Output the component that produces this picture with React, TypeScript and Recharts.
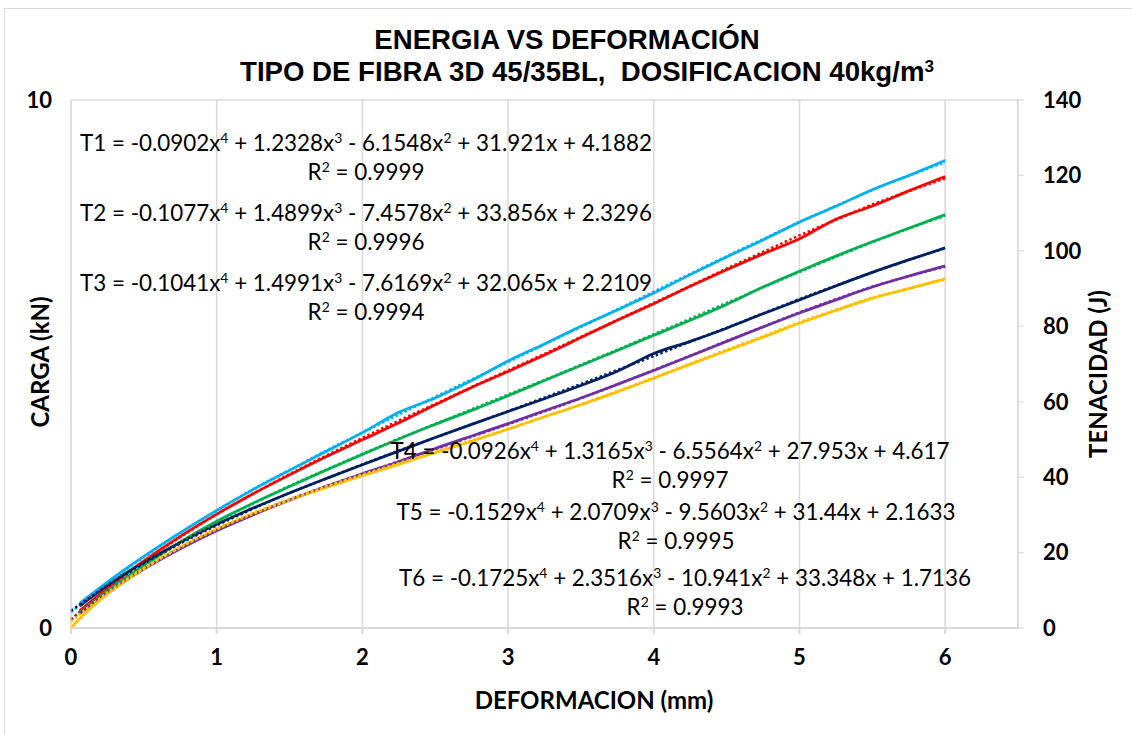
import React from "react";
import { LineChart, Line, XAxis, YAxis, CartesianGrid } from "recharts";

// deformación (mm) de las curvas medidas
const SOLID_X = [0, 0.06, 0.25, 0.5, 0.75, 1, 1.25, 1.5, 1.75, 2, 2.25, 2.5, 2.75, 3, 3.25, 3.5, 3.75, 4, 4.25, 4.5, 4.75, 5, 5.25, 5.5, 5.75, 6];

// tenacidad (J)
const T1_SOLID = [null, 6.6, 12.2, 19.0, 25.3, 31.2, 36.7, 41.8, 46.8, 51.8, 57.2, 61.0, 65.6, 70.8, 75.3, 80.0, 84.3, 88.8, 93.7, 98.4, 102.9, 107.6, 111.8, 116.2, 120.0, 124.0];
const T2_SOLID = [null, 4.6, 10.6, 17.8, 24.3, 30.2, 35.6, 40.6, 45.4, 49.9, 54.4, 59.2, 63.8, 68.0, 72.4, 77.0, 81.6, 86.0, 90.6, 95.0, 99.2, 103.2, 108.4, 111.9, 115.9, 119.7];
const T3_SOLID = [null, 4.2, 9.9, 16.6, 22.8, 28.3, 33.1, 37.5, 41.8, 46.0, 50.1, 54.0, 57.7, 61.6, 65.6, 69.6, 73.6, 77.6, 81.6, 85.8, 90.4, 94.6, 98.6, 102.4, 106.0, 109.6];
const T4_SOLID = [null, 5.8, 11.4, 17.4, 22.7, 27.5, 31.8, 35.8, 39.6, 43.3, 46.9, 50.5, 54.0, 57.4, 60.8, 64.3, 68.1, 72.8, 76.0, 79.5, 83.3, 87.0, 90.7, 94.3, 97.6, 100.8];
const T5_SOLID = [null, 3.9, 9.4, 15.6, 21.0, 25.8, 30.0, 33.9, 37.5, 40.9, 44.1, 47.6, 50.9, 54.2, 57.6, 61.0, 64.6, 68.3, 72.1, 76.0, 79.8, 83.5, 87.0, 90.4, 93.3, 96.0];
const T6_SOLID = [0, 2.5, 9.0, 15.7, 21.4, 26.2, 30.3, 33.9, 37.2, 40.4, 43.4, 46.5, 49.5, 52.7, 56.0, 59.2, 62.6, 66.2, 69.9, 73.5, 77.1, 80.8, 84.2, 87.4, 90.0, 92.6];

// líneas de tendencia polinómicas (punteadas)
const TREND_X = [0, 0.25, 0.5, 0.75, 1, 1.25, 1.5, 1.75, 2, 2.25, 2.5, 2.75, 3, 3.25, 3.5, 3.75, 4, 4.25, 4.5, 4.75, 5, 5.25, 5.5, 5.75, 6];
const T1_TREND = [4.2, 11.8, 18.8, 25.2, 31.1, 36.8, 41.9, 47.0, 51.8, 56.6, 61.3, 65.9, 70.5, 75.2, 79.8, 84.5, 89.2, 93.9, 98.6, 103.1, 107.7, 111.9, 116.1, 119.9, 123.5];
const T2_TREND = [2.3, 10.4, 17.6, 24.1, 30.1, 35.6, 40.8, 45.7, 50.4, 55.0, 59.4, 63.9, 68.3, 72.7, 77.2, 81.7, 86.2, 90.7, 95.3, 99.7, 104.1, 108.2, 112.3, 115.8, 119.2];
const T3_TREND = [2.2, 9.8, 16.5, 22.6, 28.1, 33.0, 37.7, 42.0, 46.2, 50.2, 54.1, 58.0, 61.9, 65.8, 69.8, 73.8, 77.9, 82.0, 86.2, 90.3, 94.4, 98.4, 102.3, 105.9, 109.3];
const T4_TREND = [4.6, 11.2, 17.1, 22.4, 27.2, 31.6, 35.8, 39.6, 43.4, 47.0, 50.5, 54.0, 57.5, 61.1, 64.7, 68.4, 72.1, 75.9, 79.6, 83.4, 87.2, 90.8, 94.3, 97.6, 100.7];
const T5_TREND = [2.2, 9.5, 15.7, 21.2, 26.0, 30.2, 34.0, 37.6, 40.9, 44.2, 47.4, 50.7, 54.0, 57.4, 60.9, 64.6, 68.4, 72.2, 76.1, 79.9, 83.7, 87.2, 90.5, 93.3, 95.8];
const T6_TREND = [1.7, 9.4, 15.9, 21.5, 26.3, 30.5, 34.2, 37.5, 40.7, 43.7, 46.7, 49.7, 52.8, 56.0, 59.3, 62.8, 66.4, 70.1, 73.8, 77.4, 81.1, 84.4, 87.6, 90.0, 92.3];

const X_TICKS = [0, 1, 2, 3, 4, 5, 6];
const KN_TICKS = [0, 10];
const J_TICKS = [0, 20, 40, 60, 80, 100, 120, 140];

const SERIES = [
  { key: "t1", color: "#00B0F0", solid: T1_SOLID, trend: T1_TREND },
  { key: "t2", color: "#FF0000", solid: T2_SOLID, trend: T2_TREND },
  { key: "t3", color: "#00B050", solid: T3_SOLID, trend: T3_TREND },
  { key: "t4", color: "#002060", solid: T4_SOLID, trend: T4_TREND },
  { key: "t5", color: "#7030A0", solid: T5_SOLID, trend: T5_TREND },
  { key: "t6", color: "#FFC000", solid: T6_SOLID, trend: T6_TREND },
];

const solidRows = SOLID_X.map((x, i) => {
  const row: Record<string, number | null> = { x };
  SERIES.forEach((s) => (row[s.key] = s.solid[i]));
  return row;
});
const trendRows = TREND_X.map((x, i) => {
  const row: Record<string, number | null> = { x };
  SERIES.forEach((s) => (row[s.key] = s.trend[i]));
  return row;
});

const GRID = "#d9d9d9";
const TICK = { fontSize: 22, fontWeight: 700, fill: "#000", fontFamily: "Lato" };

type Eq = { lines: [string, string, string, string]; r2: string; cx: number; y: number };
const EQUATIONS: Eq[] = [
  { lines: ["T1 = -0.0902x", " + 1.2328x", " - 6.1548x", " + 31.921x + 4.1882"], r2: "0.9999", cx: 366, y: 143 },
  { lines: ["T2 = -0.1077x", " + 1.4899x", " - 7.4578x", " + 33.856x + 2.3296"], r2: "0.9996", cx: 366, y: 213 },
  { lines: ["T3 = -0.1041x", " + 1.4991x", " - 7.6169x", " + 32.065x + 2.2109"], r2: "0.9994", cx: 366, y: 283 },
  { lines: ["T4 = -0.0926x", " + 1.3165x", " - 6.5564x", " + 27.953x + 4.617"], r2: "0.9997", cx: 670, y: 451 },
  { lines: ["T5 = -0.1529x", " + 2.0709x", " - 9.5603x", " + 31.44x + 2.1633"], r2: "0.9995", cx: 676, y: 512 },
  { lines: ["T6 = -0.1725x", " + 2.3516x", " - 10.941x", " + 33.348x + 1.7136"], r2: "0.9993", cx: 685, y: 578 },
];

const supStyle: React.CSSProperties = { fontSize: "0.62em", verticalAlign: "0.55em", lineHeight: 0 };

function EquationLabel({ eq }: { eq: Eq }) {
  const base: React.CSSProperties = {
    position: "absolute",
    left: eq.cx,
    transform: "translate(-50%, -50%)",
    whiteSpace: "nowrap",
    fontFamily: "Lato",
    fontSize: 22.4,
    color: "#000",
    lineHeight: 1,
  };
  return (
    <>
      <div style={{ ...base, top: eq.y }}>
        {eq.lines[0]}
        <span style={supStyle}>4</span>
        {eq.lines[1]}
        <span style={supStyle}>3</span>
        {eq.lines[2]}
        <span style={supStyle}>2</span>
        {eq.lines[3]}
      </div>
      <div style={{ ...base, top: eq.y + 29 }}>
        R<span style={supStyle}>2</span> = {eq.r2}
      </div>
    </>
  );
}

const titleStyle: React.CSSProperties = {
  position: "absolute",
  transform: "translate(-50%, -50%)",
  whiteSpace: "nowrap",
  fontFamily: "Liberation Sans",
  fontWeight: 700,
  fontSize: 27.6,
  lineHeight: 1,
};

const axisTitle: React.CSSProperties = {
  position: "absolute",
  whiteSpace: "nowrap",
  fontFamily: "Lato",
  fontWeight: 700,
  fontSize: 24,
  lineHeight: 1,
};

export default function App() {
  return (
    <div style={{ position: "absolute", left: 0, top: 0, width: 1132, height: 735, background: "#fff", overflow: "hidden" }}>
      <div style={{ position: "absolute", left: 4, top: 8, width: 1140, height: 760, border: `1px solid ${GRID}` }} />
      <LineChart width={1132} height={735} margin={{ top: 100, right: 14, bottom: 27, left: 11 }}>
        <CartesianGrid stroke={GRID} strokeWidth={1.5} yAxisId="kn" />
        <XAxis
          dataKey="x"
          type="number"
          domain={[0, 6.5]}
          ticks={X_TICKS}
          allowDuplicatedCategory={false}
          height={80}
          stroke={GRID}
          strokeWidth={2}
          tickSize={6}
          tickMargin={15}
          tick={TICK}
        />
        <YAxis
          yAxisId="kn"
          type="number"
          domain={[0, 10]}
          ticks={KN_TICKS}
          allowDataOverflow
          width={60}
          stroke={GRID}
          tickLine={false}
          tickSize={0}
          tickMargin={19}
          tick={TICK}
        />
        <YAxis
          yAxisId="j"
          orientation="right"
          type="number"
          domain={[0, 140]}
          ticks={J_TICKS}
          width={100}
          stroke={GRID}
          tickSize={6}
          tickMargin={19}
          tick={{ ...TICK, textAnchor: "start" }}
        />
        {/* el eje de carga no tiene serie visible */}
        <Line data={solidRows} dataKey="kn" yAxisId="kn" stroke="none" dot={false} activeDot={false} legendType="none" isAnimationActive={false} />
        {SERIES.map((s) => (
          <Line
            key={s.key}
            data={solidRows}
            dataKey={s.key}
            yAxisId="j"
            type="monotone"
            stroke={s.color}
            strokeWidth={2.75}
            dot={false}
            activeDot={false}
            isAnimationActive={false}
          />
        ))}
        {SERIES.map((s) => (
          <Line
            key={s.key + "-trend"}
            data={trendRows}
            dataKey={s.key}
            yAxisId="j"
            type="monotone"
            stroke={s.color}
            strokeWidth={2.5}
            strokeDasharray="2.5 2.5"
            dot={false}
            activeDot={false}
            isAnimationActive={false}
          />
        ))}
      </LineChart>

      <div style={{ ...titleStyle, left: 567, top: 40 }}>ENERGIA VS DEFORMACIÓN</div>
      <div style={{ ...titleStyle, left: 587, top: 72 }}>
        TIPO DE FIBRA 3D 45/35BL,&nbsp; DOSIFICACION 40kg/m<span style={supStyle}>3</span>
      </div>

      <div style={{ ...axisTitle, left: 40, top: 362, transform: "translate(-50%, -50%) rotate(-90deg)" }}>CARGA (kN)</div>
      <div style={{ ...axisTitle, left: 1098, top: 374, transform: "translate(-50%, -50%) rotate(-90deg)" }}>TENACIDAD (J)</div>
      <div style={{ ...axisTitle, left: 594, top: 700, transform: "translate(-50%, -50%)" }}>DEFORMACION (mm)</div>

      {EQUATIONS.map((eq) => (
        <EquationLabel key={eq.lines[0]} eq={eq} />
      ))}
    </div>
  );
}
